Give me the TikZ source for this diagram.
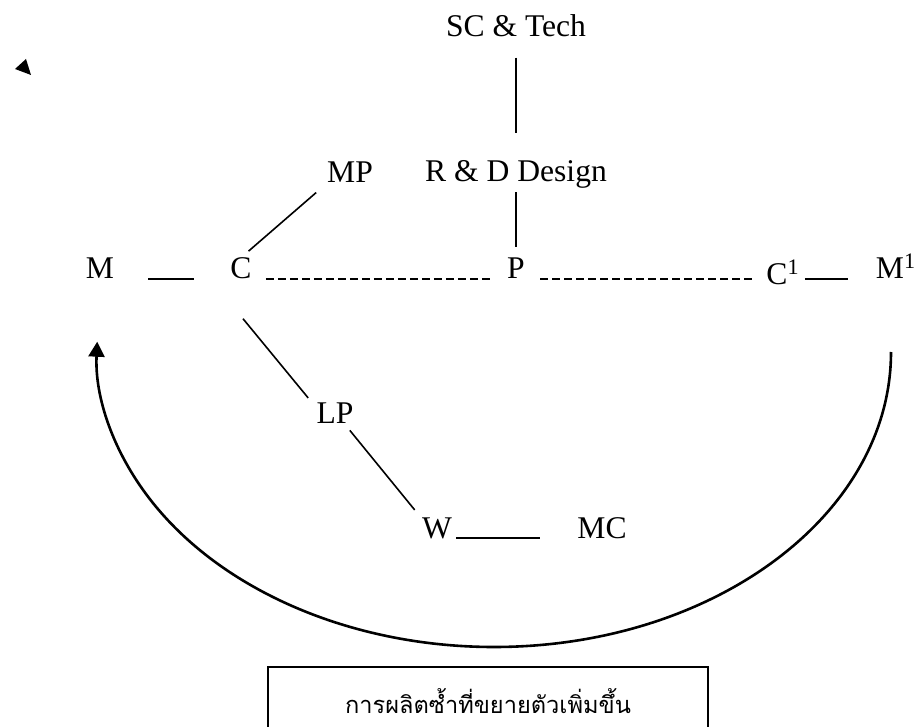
\documentclass[tikz,border=0pt]{standalone}
\usepackage{fontspec}
\setmainfont{Liberation Serif}
\newfontfamily\thaifont[Script=Thai]{Loma}
\usetikzlibrary{arrows.meta}

\tikzset{
  lbl/.style={inner sep=0pt, anchor=base, font=\fontsize{15.8}{19}\selectfont},
  link/.style={line width=0.8pt},
  cutlink/.style={line width=0.8pt, dash pattern=on 4pt off 2pt},
  loopline/.style={line width=1.3pt, -{Triangle[length=7.5pt,width=8pt]}}
}

\begin{document}
\begin{tikzpicture}[x=0.5pt,y=-0.5pt]
  \useasboundingbox (0,0) rectangle (916,727);
  \clip (0,0) rectangle (916,727);

  \fill (15,69) -- (26,59) -- (31,75) -- cycle; % stray arrow head top left

  % Draw upper column
  \node[lbl] (nSC) at (516,37) {SC \& Tech};
  \node[lbl] (nRD) at (516,182) {R \& D Design};
  \node[lbl] (nMP) at (350,183) {MP};

  % Draw main row
  \node[lbl] (nM)    at (100,279) {M};
  \node[lbl] (nC)    at (241,279) {C};
  \node[lbl] (nP)    at (516,279) {P};
  \node[lbl] (nCone) at (783,285) {C\textsuperscript{1}};
  \node[lbl] (nMone) at (896,279) {M\textsuperscript{1}};

  % Draw lower branch
  \node[lbl] (nLP) at (335,423) {LP};
  \node[lbl] (nW)  at (437,538) {W};
  \node[lbl] (nMC) at (602,538) {MC};

  % Draw label box at the bottom
  \node[lbl, font=\thaifont\fontsize{11.8}{14}\selectfont] (nRepro) at (488,713) {การผลิตซ้ำที่ขยายตัวเพิ่มขึ้น};
  \draw[link] ([shift={(-220,-46)}]nRepro.base) rectangle ([shift={(220,40)}]nRepro.base);

  % Draw vertical links above P
  \draw[link, shorten <=10pt, shorten >=14pt] (nSC.south) -- (nRD.north);
  \draw[link, shorten <=1.5pt, shorten >=5.5pt] (nRD.south) -- (nP.north);
  \draw[link, shorten <=5pt, shorten >=7pt] (nC.north) -- (nMP.south west);

  % Draw links along the row
  \draw[link, shorten <=17pt, shorten >=18.25pt] (nM.base east) -- (nC.base west);
  \draw[cutlink, shorten <=7pt, shorten >=7.5pt] (nC.base east) -- (nP.base west);
  \draw[cutlink, shorten <=7.5pt, shorten >=6.5pt] (nP.base east) -- (nP.base east -| nCone.west);
  \draw[link, shorten <=2.5pt, shorten >=14pt] (nMone.base west -| nCone.east) -- (nMone.base west);

  % Draw links down to W and MC
  \draw[link] ([shift={(2,39)}]nC.south) -- ([shift={(-8,-4)}]nLP.north west);
  \draw[link] ([shift={(-4,7)}]nLP.south east) -- ([shift={(-7,-7)}]nW.north west);
  \draw[link, shorten <=2pt, shorten >=18.75pt] (nW.base east) -- (nMC.base west);

  % Draw loop from M1 back to M
  \coordinate (loopStart) at (891,352);
  \draw[loopline] (loopStart) arc[start angle=0, end angle=-182, x radius=198.5pt, y radius=147.5pt];
\end{tikzpicture}
\end{document}
